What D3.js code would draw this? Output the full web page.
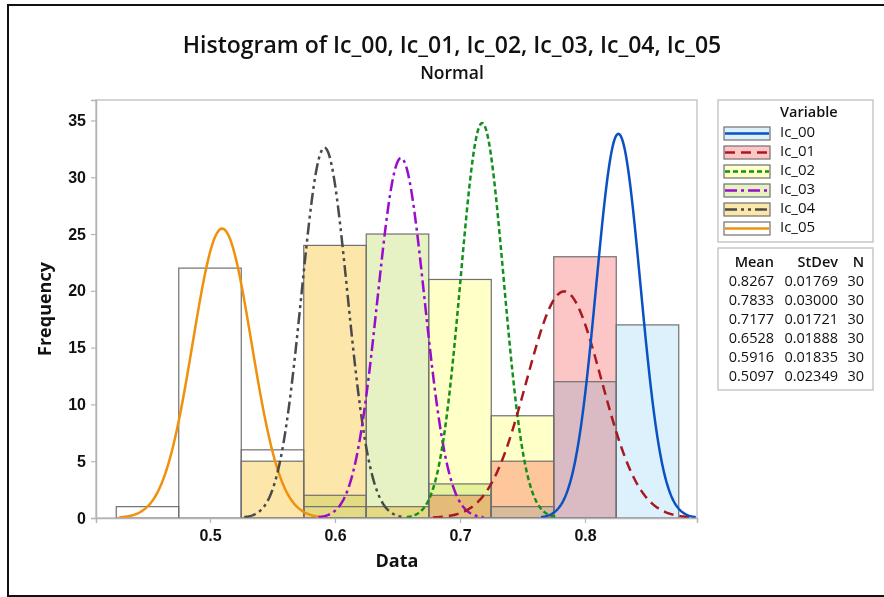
<!DOCTYPE html>
<html>
<head>
<meta charset="utf-8">
<script src="https://cdn.jsdelivr.net/npm/d3@7"></script>
<style>
  body { margin: 0; background: #fff; }
  svg { font-family: "Open Sans", "Noto Sans", sans-serif; }
</style>
</head>
<body>
<svg id="chart" width="884" height="597"></svg>
<script>
// values
const variables = ["Ic_00", "Ic_01", "Ic_02", "Ic_03", "Ic_04", "Ic_05"];
const binMids = [0.45, 0.50, 0.55, 0.60, 0.65, 0.70, 0.75, 0.80, 0.85];
const counts_Ic_00 = [0, 0, 0, 0, 0, 0, 1, 12, 17];
const counts_Ic_01 = [0, 0, 0, 0, 0, 2, 5, 23, 0];
const counts_Ic_02 = [0, 0, 0, 0, 0, 21, 9, 0, 0];
const counts_Ic_03 = [0, 0, 0, 2, 25, 3, 0, 0, 0];
const counts_Ic_04 = [0, 0, 5, 24, 1, 0, 0, 0, 0];
const counts_Ic_05 = [1, 22, 6, 1, 0, 0, 0, 0, 0];
const means = [0.8267, 0.7833, 0.7177, 0.6528, 0.5916, 0.5097];
const stdevs = [0.01769, 0.03000, 0.01721, 0.01888, 0.01835, 0.02349];
const ns = [30, 30, 30, 30, 30, 30];
const xTicks = [0.5, 0.6, 0.7, 0.8];
const yTicks = [0, 5, 10, 15, 20, 25, 30, 35];

const allCounts = [counts_Ic_00, counts_Ic_01, counts_Ic_02, counts_Ic_03, counts_Ic_04, counts_Ic_05];
const fills = ["#dcf1fc", "#fdc6c6", "#ffffc8", "#e6f2c4", "#fde6aa", "#ffffff"];
const lineColors = ["#0a52c4", "#a81820", "#12901a", "#9a0ccc", "#4a4a4a", "#f0900c"];
const dashes = [null, "10,6", "5,3", "12,4,3,4", "12,4,3,4,3,4", null];

const svg = d3.select("#chart");
const plot = {left: 96, top: 100, right: 697, bottom: 518};

// outer frame
svg.append("rect").attr("x", 8).attr("y", 5).attr("width", 890).attr("height", 591)
  .attr("fill", "none").attr("stroke", "#111").attr("stroke-width", 2);

const x = d3.scaleLinear().domain([0.4088, 0.8896]).range([plot.left, plot.right]);
const y = d3.scaleLinear().domain([0, 36.8]).range([plot.bottom, plot.top]);
const binW = binMids[1] - binMids[0];

// plot frame
svg.append("rect").attr("x", plot.left).attr("y", plot.top)
  .attr("width", plot.right - plot.left).attr("height", plot.bottom - plot.top)
  .attr("fill", "#fff").attr("stroke", "#c8c8c8").attr("stroke-width", 1.5);

svg.append("clipPath").attr("id", "clip").append("rect")
  .attr("x", plot.left).attr("y", plot.top - 2)
  .attr("width", plot.right - plot.left).attr("height", plot.bottom - plot.top + 2);

// bars (fills multiply where the groups overlap)
const barsG = svg.append("g").style("isolation", "isolate");
for (let v = variables.length - 1; v >= 0; v--) {
  const rows = binMids.map((m, i) => ({m: m, c: allCounts[v][i]})).filter(d => d.c > 0);
  barsG.append("g").selectAll("rect").data(rows).join("rect")
    .attr("x", d => x(d.m - binW / 2))
    .attr("y", d => y(d.c))
    .attr("width", d => x(d.m + binW / 2) - x(d.m - binW / 2))
    .attr("height", d => y(0) - y(d.c))
    .attr("fill", fills[v])
    .style("mix-blend-mode", "multiply");
}
for (let v = variables.length - 1; v >= 0; v--) {
  const rows = binMids.map((m, i) => ({m: m, c: allCounts[v][i]})).filter(d => d.c > 0);
  svg.append("g").selectAll("rect").data(rows).join("rect")
    .attr("x", d => x(d.m - binW / 2))
    .attr("y", d => y(d.c))
    .attr("width", d => x(d.m + binW / 2) - x(d.m - binW / 2))
    .attr("height", d => y(0) - y(d.c))
    .attr("fill", "none")
    .attr("stroke", "#707070").attr("stroke-width", 1.2);
}

// fitted normal curves
function normalCurve(mu, sd, n) {
  const lo = Math.max(mu - 3.5 * sd, x.domain()[0]);
  const hi = Math.min(mu + 3.5 * sd, x.domain()[1]);
  const pts = [];
  for (let k = 0; k <= 200; k++) {
    const t = lo + (hi - lo) * k / 200;
    const z = (t - mu) / sd;
    pts.push([t, n * binW * Math.exp(-0.5 * z * z) / (sd * Math.sqrt(2 * Math.PI))]);
  }
  return pts;
}
const line = d3.line().x(d => x(d[0])).y(d => y(d[1]));
const curvesG = svg.append("g").attr("clip-path", "url(#clip)");
for (let v = variables.length - 1; v >= 0; v--) {
  curvesG.append("path")
    .attr("d", line(normalCurve(means[v], stdevs[v], ns[v])))
    .attr("fill", "none")
    .attr("stroke", lineColors[v])
    .attr("stroke-width", 2.5)
    .attr("stroke-dasharray", dashes[v]);
}

// axes
const xAxis = svg.append("g").attr("transform", `translate(0,${plot.bottom})`)
  .call(d3.axisBottom(x).tickValues(xTicks).tickFormat(d3.format(".1f")).tickSizeOuter(0).tickSize(5));
const yAxis = svg.append("g").attr("transform", `translate(${plot.left},0)`)
  .call(d3.axisLeft(y).tickValues(yTicks).tickSizeOuter(0).tickSize(5));
[xAxis, yAxis].forEach(a => {
  a.select(".domain").attr("stroke", "#b4b4b4").attr("stroke-width", 1.5);
  a.selectAll(".tick line").attr("stroke", "#b4b4b4").attr("stroke-width", 1.2);
  a.selectAll(".tick text").attr("fill", "#111").style("font-size", "16px").style("font-weight", 600);
});
xAxis.selectAll(".tick text").attr("dy", "0.95em");
yAxis.selectAll(".tick text").attr("x", -10);

// titles
svg.append("text").attr("x", 452).attr("y", 53).attr("text-anchor", "middle")
  .style("font-size", "23px").style("font-weight", 600).attr("fill", "#111")
  .text("Histogram of Ic_00, Ic_01, Ic_02, Ic_03, Ic_04, Ic_05");
svg.append("text").attr("x", 452).attr("y", 79).attr("text-anchor", "middle")
  .style("font-size", "17.5px").style("font-weight", 600).attr("fill", "#111").text("Normal");
svg.append("text").attr("x", 397).attr("y", 567).attr("text-anchor", "middle")
  .style("font-size", "18px").style("font-weight", 700).attr("fill", "#111").text("Data");
svg.append("text").attr("transform", "translate(51,309) rotate(-90)").attr("text-anchor", "middle")
  .style("font-size", "18px").style("font-weight", 700).attr("fill", "#111").text("Frequency");

// legend
const leg = svg.append("g");
leg.append("rect").attr("x", 718).attr("y", 100).attr("width", 155).attr("height", 142)
  .attr("fill", "#fff").attr("stroke", "#c8c8c8").attr("stroke-width", 1.5);
leg.append("text").attr("x", 780).attr("y", 117).style("font-size", "14.5px").style("font-weight", 600)
  .attr("fill", "#111").text("Variable");
variables.forEach((name, i) => {
  const cy = 133 + i * 19;
  leg.append("rect").attr("x", 724).attr("y", cy - 6).attr("width", 46).attr("height", 13)
    .attr("fill", fills[i]).attr("stroke", "#707070").attr("stroke-width", 1.2);
  leg.append("line").attr("x1", 725).attr("x2", 769).attr("y1", cy + 0.5).attr("y2", cy + 0.5)
    .attr("stroke", lineColors[i]).attr("stroke-width", 2.4).attr("stroke-dasharray", dashes[i]);
  leg.append("text").attr("x", 780).attr("y", cy + 4).style("font-size", "15px").style("font-weight", 500)
    .attr("fill", "#111").text(name);
});

// stats table
const st = svg.append("g");
st.append("rect").attr("x", 718).attr("y", 248).attr("width", 155).attr("height", 142)
  .attr("fill", "#fff").attr("stroke", "#c8c8c8").attr("stroke-width", 1.5);
const colRight = [774, 838, 864];
["Mean", "StDev", "N"].forEach((h, j) => {
  st.append("text").attr("x", colRight[j]).attr("y", 267).attr("text-anchor", "end")
    .style("font-size", "14.5px").style("font-weight", 600).attr("fill", "#111").text(h);
});
variables.forEach((name, i) => {
  const by = 286 + i * 19;
  const vals = [d3.format(".4f")(means[i]), d3.format(".5f")(stdevs[i]), String(ns[i])];
  vals.forEach((t, j) => {
    st.append("text").attr("x", colRight[j]).attr("y", by).attr("text-anchor", "end")
      .style("font-size", "14.5px").style("font-weight", 500).attr("fill", "#111").text(t);
  });
});
</script>
</body>
</html>
